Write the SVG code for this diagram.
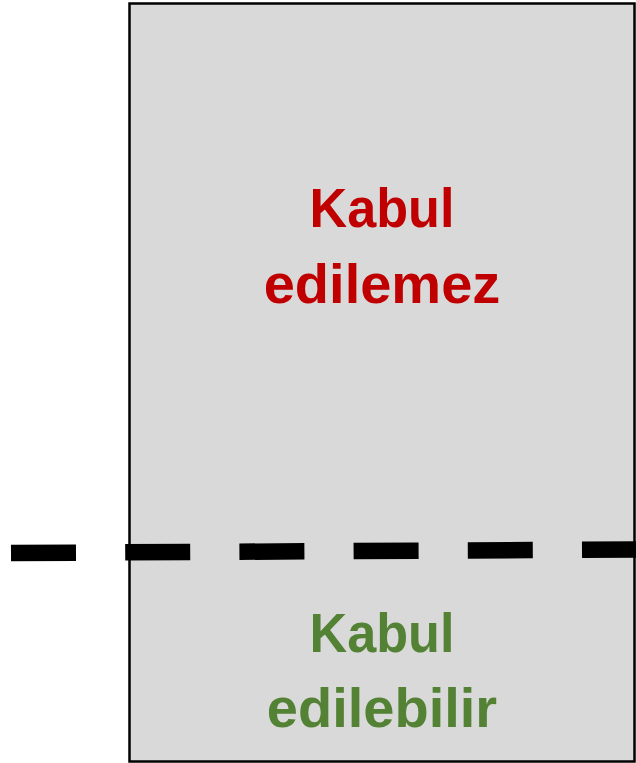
<svg xmlns="http://www.w3.org/2000/svg" width="636" height="763" viewBox="0 0 636 763">
  <style>
    .zone { fill: #D9D9D9; stroke: #000000; stroke-width: 2.5; }
    .label { font-family: "Liberation Sans", Arial, sans-serif; font-weight: bold; font-size: 56px; text-anchor: middle; }
    .bad { fill: #C00000; }
    .ok { fill: #548235; }
    .limit { stroke: #000000; stroke-width: 16.5; stroke-dasharray: 65 49.2; fill: none; }
  </style>
  <rect width="636" height="763" fill="#FFFFFF"/>
  <g id="region">
    <rect class="zone" x="129.5" y="3.5" width="505" height="758"/>
  </g>
  <g id="unacceptable">
    <text class="label bad" x="382" y="227" textLength="145" lengthAdjust="spacingAndGlyphs">Kabul</text>
    <text class="label bad" x="382" y="303">edilemez</text>
  </g>
  <g id="acceptable">
    <text class="label ok" x="382" y="652" textLength="145" lengthAdjust="spacingAndGlyphs">Kabul</text>
    <text class="label ok" x="382" y="727">edilebilir</text>
  </g>
  <g id="connectors">
    <line class="limit" x1="11" y1="553" x2="650" y2="549.4"/>
  </g>
</svg>
